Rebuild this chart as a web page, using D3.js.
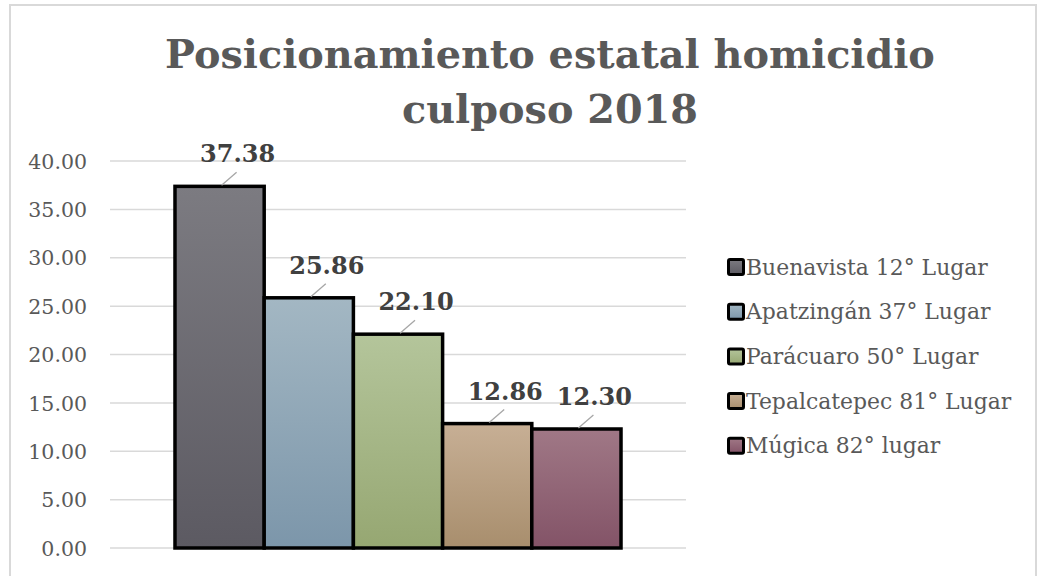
<!DOCTYPE html>
<html><head><meta charset="utf-8">
<script src="https://cdn.jsdelivr.net/npm/d3@7"></script>
<style>html,body{margin:0;padding:0;background:#fff;}svg{display:block;}</style>
</head><body>
<svg id="c" width="1041" height="576"></svg>
<script>
const titleLines = ["Posicionamiento estatal homicidio", "culposo 2018"];
const seriesNames = ["Buenavista 12° Lugar", "Apatzingán 37° Lugar", "Parácuaro 50° Lugar", "Tepalcatepec 81° Lugar", "Múgica 82° lugar"];
const seriesValues = [37.38, 25.86, 22.10, 12.86, 12.30];
const topColors = ["#7c7b81", "#a3b7c3", "#b4c59b", "#c7af95", "#a07886"];
const bottomColors = ["#5c5a62", "#7c96aa", "#96a772", "#a88e6d", "#835367"];
const yTicks = [0, 5, 10, 15, 20, 25, 30, 35, 40];

const svg = d3.select("#c");
const plot = {left: 110, right: 686, top: 161, bottom: 548};
const font = "'DejaVu Serif', 'Liberation Serif', serif";
const grey = "#595959";

// chart border
svg.append("rect").attr("x", 10).attr("y", 5).attr("width", 1026).attr("height", 590)
  .attr("fill", "#fff").attr("stroke", "#d9d9d9").attr("stroke-width", 2);

// gradients
const defs = svg.append("defs");
seriesNames.forEach((n, i) => {
  const g = defs.append("linearGradient").attr("id", "g" + i)
    .attr("x1", 0).attr("y1", 0).attr("x2", 0).attr("y2", 1);
  g.append("stop").attr("offset", "0%").attr("stop-color", topColors[i]);
  g.append("stop").attr("offset", "100%").attr("stop-color", bottomColors[i]);
});

// title
const title = svg.append("g");
titleLines.forEach((t, i) => {
  title.append("text").attr("x", 550).attr("y", 68 + i * 55)
    .attr("text-anchor", "middle").attr("font-family", font).attr("font-weight", "bold")
    .attr("font-size", 40).attr("fill", grey).text(t);
});
(function(){
  const t0 = title.select("text").node();
  const w = t0.getComputedTextLength();
  title.selectAll("text").attr("font-size", 40 * 770 / w);
})();

const y = d3.scaleLinear().domain([0, 40]).range([plot.bottom, plot.top]);
const xOuter = d3.scaleBand().domain(["2018"]).range([plot.left, plot.right]).paddingOuter(0.1457).paddingInner(0);
const x = d3.scaleBand().domain(seriesNames).range([xOuter("2018"), xOuter("2018") + xOuter.bandwidth()]).padding(0);

// gridlines
svg.append("g").selectAll("line").data(yTicks).join("line")
  .attr("x1", plot.left).attr("x2", plot.right)
  .attr("y1", d => y(d)).attr("y2", d => y(d))
  .attr("stroke", "#d9d9d9").attr("stroke-width", 1.5);

// y axis labels
const yAxis = d3.axisLeft(y).tickValues(yTicks).tickFormat(d3.format(".2f")).tickSize(0).tickPadding(0);
const ag = svg.append("g").attr("transform", "translate(87,0)").call(yAxis);
ag.select(".domain").remove();
ag.selectAll("text").attr("font-family", font).attr("font-size", 20.5).attr("fill", grey).attr("dy", "0.35em");

// bars
const data = seriesNames.map((n, i) => ({name: n, value: seriesValues[i], i}));
svg.append("g").selectAll("rect").data(data).join("rect")
  .attr("x", d => x(d.name)).attr("width", x.bandwidth())
  .attr("y", d => y(d.value)).attr("height", d => y(0) - y(d.value))
  .attr("fill", d => `url(#g${d.i})`).attr("stroke", "#000").attr("stroke-width", 3.5)
  .attr("stroke-linejoin", "miter");

// data labels with leader lines
const lbl = svg.append("g");
data.forEach(d => {
  const cx = x(d.name) + x.bandwidth() / 2;
  const ty = y(d.value);
  lbl.append("line").attr("x1", cx + 2).attr("y1", ty - 1).attr("x2", cx + 17).attr("y2", ty - 14)
    .attr("stroke", "#a6a6a6").attr("stroke-width", 1.3);
  lbl.append("text").attr("x", cx + 18).attr("y", ty - 24)
    .attr("text-anchor", "middle").attr("font-family", font).attr("font-weight", "bold")
    .attr("font-size", 24).attr("fill", "#404040").text(d3.format(".2f")(d.value));
});

// legend
const leg = svg.append("g").attr("transform", "translate(727,267)");
const li = leg.selectAll("g").data(data).join("g").attr("transform", (d, i) => `translate(0,${i * 44.7})`);
li.append("rect").attr("x", 1.5).attr("y", -7.5).attr("width", 15).attr("height", 15).attr("rx", 1.5)
  .attr("fill", d => `url(#g${d.i})`).attr("stroke", "#000").attr("stroke-width", 3);
li.append("text").attr("x", 19).attr("y", 0).attr("dy", "0.35em")
  .attr("font-family", font).attr("font-size", 19).attr("fill", grey).text(d => d.name);
(function(){
  const t0 = li.select("text").node();
  const w = t0.getComputedTextLength();
  li.selectAll("text").attr("font-size", 19 * 242 / w);
})();
</script>
</body></html>
